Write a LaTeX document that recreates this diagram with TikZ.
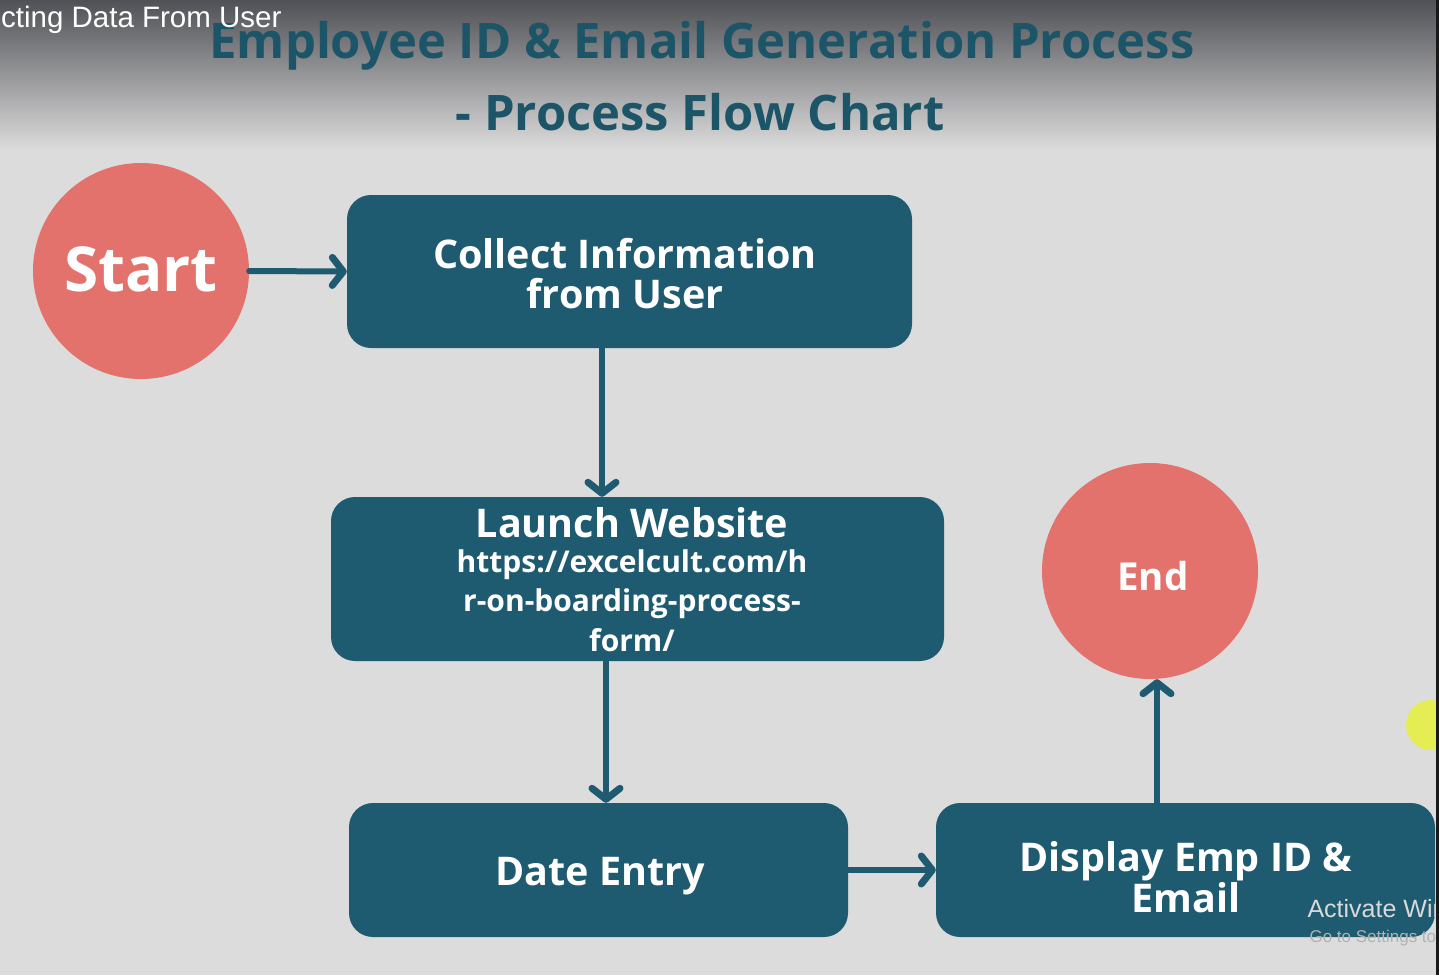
\documentclass[tikz,border=0pt]{standalone}
\usepackage{fontspec}
\setmainfont{Open Sans}
\newfontfamily\overlayfont{Liberation Sans}
\usetikzlibrary{arrows.meta}

\definecolor{bgcol}{HTML}{DCDCDC}
\definecolor{topcol}{HTML}{505156}
\definecolor{tealcol}{HTML}{1F5B70}
\definecolor{titlecol}{HTML}{1C5468}
\definecolor{salmoncol}{HTML}{E2726B}
\definecolor{marker}{HTML}{E6F23A}

\tikzset{
    stepbox/.style={fill=tealcol, rounded corners=24pt, text=white, font=\bfseries, align=center, inner sep=0pt},
    termcircle/.style={circle, fill=salmoncol, text=white, font=\bfseries, minimum size=216pt, inner sep=0pt},
    flow/.style={draw=tealcol, line width=6pt, line cap=round, -{Straight Barb[length=11pt, width=28pt, line width=7pt, round]}},
}

\begin{document}
\begin{tikzpicture}[x=1pt, y=-1pt]

            \useasboundingbox (0,0) rectangle (1439,975);
            \fill [bgcol] (0,0) rectangle (1439,975);
            \shade [top color=topcol, bottom color=bgcol] (0,0) rectangle (1439,150);

            \node (title1) [titlecol, font=\bfseries\fontsize{49}{56}\selectfont] at (702,46) {Employee ID \& Email Generation Process};
            \node (title2) [titlecol, font=\bfseries\fontsize{49}{56}\selectfont] at (700,112) {- Process Flow Chart};

            \node (start) [termcircle] at (141,271) {};
            \node (starttext) [text=white, font=\bfseries\fontsize{62}{66}\selectfont] at (141,269) {Start};
            \node (end) [termcircle] at (1150,571) {};
            \node (endtext) [text=white, font=\bfseries\fontsize{38.5}{42}\selectfont] at (1153,576) {End};

            \node (collect) [stepbox, minimum width=565pt, minimum height=153pt] at (629.5,271.5) {};
            \node (collecttext) [text=white, align=center, font=\bfseries\fontsize{39.5}{40}\selectfont] at (625,274) {Collect Information\\from User};
            \node (launch) [stepbox, minimum width=613pt, minimum height=164pt] at (637.5,579) {};
            \node (launchtitle) [text=white, font=\bfseries\fontsize{39.5}{40}\selectfont] at (632,523) {Launch Website};
            \node (launchurl) [text=white, align=center, font=\bfseries\fontsize{30}{39.5}\selectfont, anchor=north] at (632,546) {https://excelcult.com/h\\r-on-boarding-process-\\form/};
            \node (dateentry) [stepbox, minimum width=499pt, minimum height=134pt] at (598.5,870) {};
            \node (datetext) [text=white, font=\bfseries\fontsize{39.5}{40}\selectfont] at (600,876) {Date Entry};
            \node (display) [stepbox, minimum width=499pt, minimum height=134pt] at (1185.5,870) {};
            \node (displaytext) [text=white, align=center, font=\bfseries\fontsize{39.5}{38}\selectfont] at (1186,877) {Display Emp ID \&\\Email};

            \draw [flow] (start.east) -- (collect.west);
            \draw [flow] (collect.south -| 602,0) -- (launch.north -| 602,0);
            \draw [flow] (launch.south -| 606,0) -- (dateentry.north -| 606,0);
            \draw [flow] (dateentry.east) -- (display.west);
            \draw [flow] (display.north -| 1157,0) -- (end.south -| 1157,0);

            % screen overlays
            \node (caption) [anchor=east, text=white, font=\overlayfont\fontsize{29.5}{32}\selectfont] at (285,20) {cting Data From User};
            \node (watermark) [anchor=west, text=white!70!gray, font=\overlayfont\fontsize{25}{28}\selectfont] at (1304,909) {Activate Windows};
            \node (watermarksub) [anchor=west, text=gray!60, font=\overlayfont\fontsize{17}{20}\selectfont] at (1306,938) {Go to Settings to activate Windows.};
            \fill [marker, opacity=0.85] (1431,725) circle (25pt);
            \fill [black!90] (1436,0) rectangle (1439,975);

        \end{tikzpicture}
\end{document}
